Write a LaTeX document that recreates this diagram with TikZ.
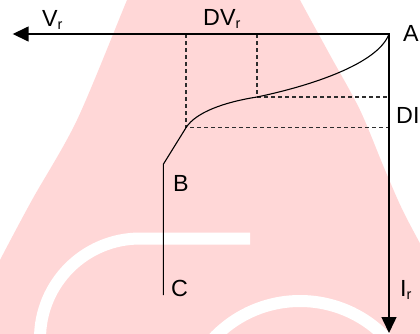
\documentclass[tikz,border=0pt]{standalone}
\usepackage{fontspec}
\setmainfont{Liberation Sans}
\usetikzlibrary{arrows.meta}
\definecolor{wmpink}{RGB}{255,215,215}
\definecolor{dashgray}{RGB}{45,45,45}
\tikzset{
  axis/.style={line width=1.5bp, line join=miter,
    arrows={Triangle[length=16bp,width=15bp]-Triangle[length=16bp,width=15bp]}},
  curveline/.style={line width=1.1bp},
  guide/.style={line width=1.1bp, dashgray, dash pattern=on 4bp off 3bp},
  lbl/.style={inner sep=0pt, anchor=base west, font=\fontsize{23.4}{28}\selectfont},
  wmstripe/.style={white, line width=12bp},
}
\newcommand{\subr}{\raisebox{-3bp}{\fontsize{14.5}{16}\selectfont r}}
\begin{document}
\begin{tikzpicture}[x=1bp,y=-1bp]
\useasboundingbox (0,0) rectangle (420,334);
% watermark
\begin{scope}
\clip (0,0) rectangle (420,334);
\fill[wmpink] plot[smooth] coordinates {(140,-30) (127,0) (77,120) (32,200) (0,260) (-20,300)}
  -- (-20,360) -- (440,360)
  -- plot[smooth] coordinates {(440,280) (405,215) (385,170) (360,110) (330,55) (300,0) (285,-30)}
  -- cycle;
\draw[wmstripe] (250,238.5) -- (140,238.5) arc[start angle=270, end angle=180, radius=100];
\draw[wmstripe] (300,420) circle[radius=119];
\end{scope}
% points
\coordinate (A) at (389,34);
\coordinate (Vend) at (12.7,34);
\coordinate (Iend) at (389,333);
\coordinate (P1) at (257,97);
\coordinate (P2) at (186,127.7);
\coordinate (B) at (163.3,164.3);
\coordinate (C) at (163.3,295);
\coordinate (D1) at (257,34);
\coordinate (D2) at (186,34);
\coordinate (H1) at (389,97);
\coordinate (H2) at (389,127.7);
% guides
\draw[guide] (D1) -- (P1) -- (H1);
\draw[guide] (D2) -- (P2) -- (H2);
% axes
\draw[axis] (Vend) -- (A) -- (Iend);
% characteristic
\draw[curveline] (A) .. controls (378,64) and (310,86) .. (P1)
  .. controls (225,102) and (196,112) .. (P2) -- (B) -- (C);
% labels
\node[lbl] (Vr) at (42,26) {V\subr};
\node[lbl] (DVr) at (203,25) {DV\subr};
\node[lbl] (Al) at (403,41.7) {A};
\node[lbl] (DI) at (396,123) {DI};
\node[lbl] (Bl) at (173,191.7) {B};
\node[lbl] (Cl) at (171,296.5) {C};
\node[lbl] (Ir) at (400,296.7) {I\subr};
\end{tikzpicture}
\end{document}
